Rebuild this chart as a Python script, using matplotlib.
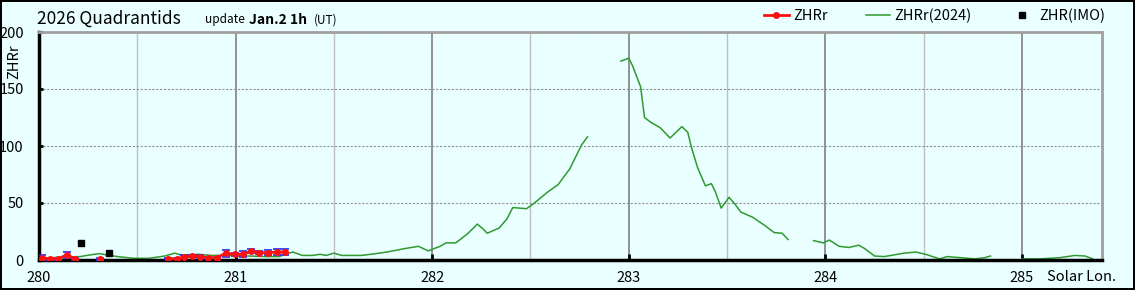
import matplotlib.pyplot as plt
import numpy as np

plt.rcParams['font.family'] = ['Noto Sans CJK JP', 'DejaVu Sans']

BG = "#EAFFFF"

# ZHRr(2024) reference curve, NaN marks gaps in the record
ref_lon = [280.00, 280.06, 280.12, 280.21, 280.28, 280.31, 280.36, 280.40, 280.48, 280.56,
           280.64, 280.69, 280.73, 280.81, 280.88, 280.95, 281.07, 281.15, 281.22, 281.29,
           281.34, 281.39, 281.43, 281.46, 281.50, 281.54, 281.64, 281.71, 281.77, 281.86,
           281.93, 281.98, 282.04, 282.07, 282.12, 282.18, 282.23, 282.26, 282.28, 282.34,
           282.38, 282.41, 282.48, 282.52, 282.59, 282.64, 282.70, 282.76, 282.79,
           282.88,
           282.96, 283.00, 283.02, 283.06, 283.08, 283.11, 283.16, 283.21, 283.24, 283.27,
           283.30, 283.32, 283.35, 283.39, 283.42, 283.44, 283.47, 283.51, 283.54, 283.57,
           283.63, 283.69, 283.74, 283.78, 283.81,
           283.88,
           283.94, 283.99, 284.02, 284.07, 284.12, 284.17, 284.20, 284.25, 284.30, 284.40,
           284.46, 284.51, 284.58, 284.62, 284.69, 284.76, 284.81, 284.84,
           284.92,
           285.00, 285.09, 285.19, 285.27, 285.32, 285.36]
ref_zhr = [1.5, 2, 2.5, 3, 5, 5.5, 4, 3, 1.5, 1.5,
           3.5, 6, 4, 5, 4, 4, 3.5, 3, 3, 7,
           4, 4, 5, 4, 6, 4, 4, 5.5, 7, 10,
           12, 8, 12, 15, 15, 23, 31.5, 27, 23.5, 28,
           36, 46, 45, 50, 60, 66, 80, 101, 108,
           np.nan,
           174.5, 177, 170, 152, 125, 121, 116, 107, 112, 117,
           112, 98, 81, 65, 67, 60, 45.5, 55, 49, 42,
           37.5, 30.5, 24, 23.5, 18,
           np.nan,
           17, 15, 17.5, 12, 11, 13, 10, 3.5, 3, 6,
           7, 5, 1, 3, 2, 1, 2, 3.5,
           np.nan,
           1, 1, 2, 4, 3.5, 1]

# ZHRr 2026 (hourly), NaN marks gaps
zhr_lon = [280.015, 280.056, 280.098, 280.140, 280.185, 280.25, 280.310, 280.45,
           280.655, 280.700, 280.740, 280.780, 280.820, 280.860, 280.905, 280.950,
           280.995, 281.040, 281.080, 281.120, 281.165, 281.210, 281.250]
zhr_val = [2, 1, 1, 4.5, 1, np.nan, 1, np.nan,
           1, 1, 3, 3.5, 3, 2, 2, 6,
           5, 5, 8, 6.5, 6.5, 7, 7]
zhr_err = [2, 1, 1, 2.5, 1, 0, 1, 0,
           0.5, 0.5, 1, 1, 1, 1, 1, 3,
           1.5, 2.5, 1.5, 1.5, 2, 2.5, 2.5]

# ZHR (IMO)
imo_lon = [280.214, 280.356]
imo_val = [15, 6]
imo_err = [1.5, 0.8]

fig = plt.figure(figsize=(11.35, 2.9), dpi=100, facecolor=BG,
                 edgecolor="black", linewidth=1.5)
ax = fig.add_axes([39 / 1135, 30 / 290, 1063 / 1135, 228 / 290])
ax.set_facecolor(BG)

# grid
ax.set_xticks(np.arange(280, 286, 1))
ax.set_xticks(np.arange(280.5, 285.5, 1), minor=True)
ax.set_yticks([0, 50, 100, 150, 200])
ax.grid(True, axis="x", which="major", color="#808080", linewidth=1.2)
ax.grid(True, axis="x", which="minor", color="#C0C0C0", linewidth=1)
ax.grid(True, axis="y", which="major", color="#909090", linewidth=0.8,
        linestyle=(0, (2, 1.5)))
ax.set_axisbelow(True)

ref_line, = ax.plot(ref_lon, ref_zhr, color="#2E9A2E", linewidth=1.1, label="ZHRr(2024)")
ax.errorbar(zhr_lon, zhr_val, yerr=zhr_err, fmt="none", ecolor="#1E2EFF",
            elinewidth=1.2, capsize=3, capthick=1.2, zorder=3)
zhr_line, = ax.plot(zhr_lon, zhr_val, color="#FF1010", linewidth=2, marker="o",
                    markersize=4, label="ZHRr", zorder=4)
ax.errorbar(imo_lon, imo_val, yerr=imo_err, fmt="none", ecolor="black",
            elinewidth=1, capsize=2, zorder=4)
imo_pts, = ax.plot(imo_lon, imo_val, linestyle="none", marker="s", markersize=4.5,
                   color="black", label="ZHR(IMO)", zorder=5)

ax.set_xlim(280, 285.407)
ax.set_ylim(0, 200)

for s in ["left", "bottom"]:
    ax.spines[s].set_color("black")
    ax.spines[s].set_linewidth(2.5)
for s in ["top", "right"]:
    ax.spines[s].set_color("#A0A0A0")
    ax.spines[s].set_linewidth(2)

ax.tick_params(axis="x", which="major", direction="in", length=4, width=2,
               labelsize=10.5, pad=8, color="black")
ax.tick_params(axis="x", which="minor", length=0)
ax.tick_params(axis="y", direction="in", length=3, width=2, labelsize=10.5, pad=11)

fig.text(14 / 1135, 1 - 62 / 290, "ZHRr", rotation=90, ha="center", va="center",
         fontsize=10.5)
fig.text(1047 / 1135, 1 - 277 / 290, "Solar Lon.", ha="left", va="center", fontsize=10.5)

fig.text(37 / 1135, 1 - 19 / 290, "2026 Quadrantids", ha="left", va="center", fontsize=12.5)
fig.text(205 / 1135, 1 - 20 / 290, "update", ha="left", va="center", fontsize=8.5)
fig.text(249 / 1135, 1 - 20 / 290, "Jan.2 1h", ha="left", va="center", fontsize=10,
         fontweight="bold")
fig.text(314 / 1135, 1 - 20 / 290, "(UT)", ha="left", va="center", fontsize=8.5)

fig.legend(handles=[zhr_line, ref_line, imo_pts], loc="center right",
           bbox_to_anchor=(1105 / 1135, 1 - 16 / 290), ncol=3, frameon=False,
           fontsize=10.5, handlelength=1.7, handletextpad=0.3, columnspacing=2.6,
           borderaxespad=0, borderpad=0)

fig.savefig("out.png", dpi=100, facecolor=BG)
